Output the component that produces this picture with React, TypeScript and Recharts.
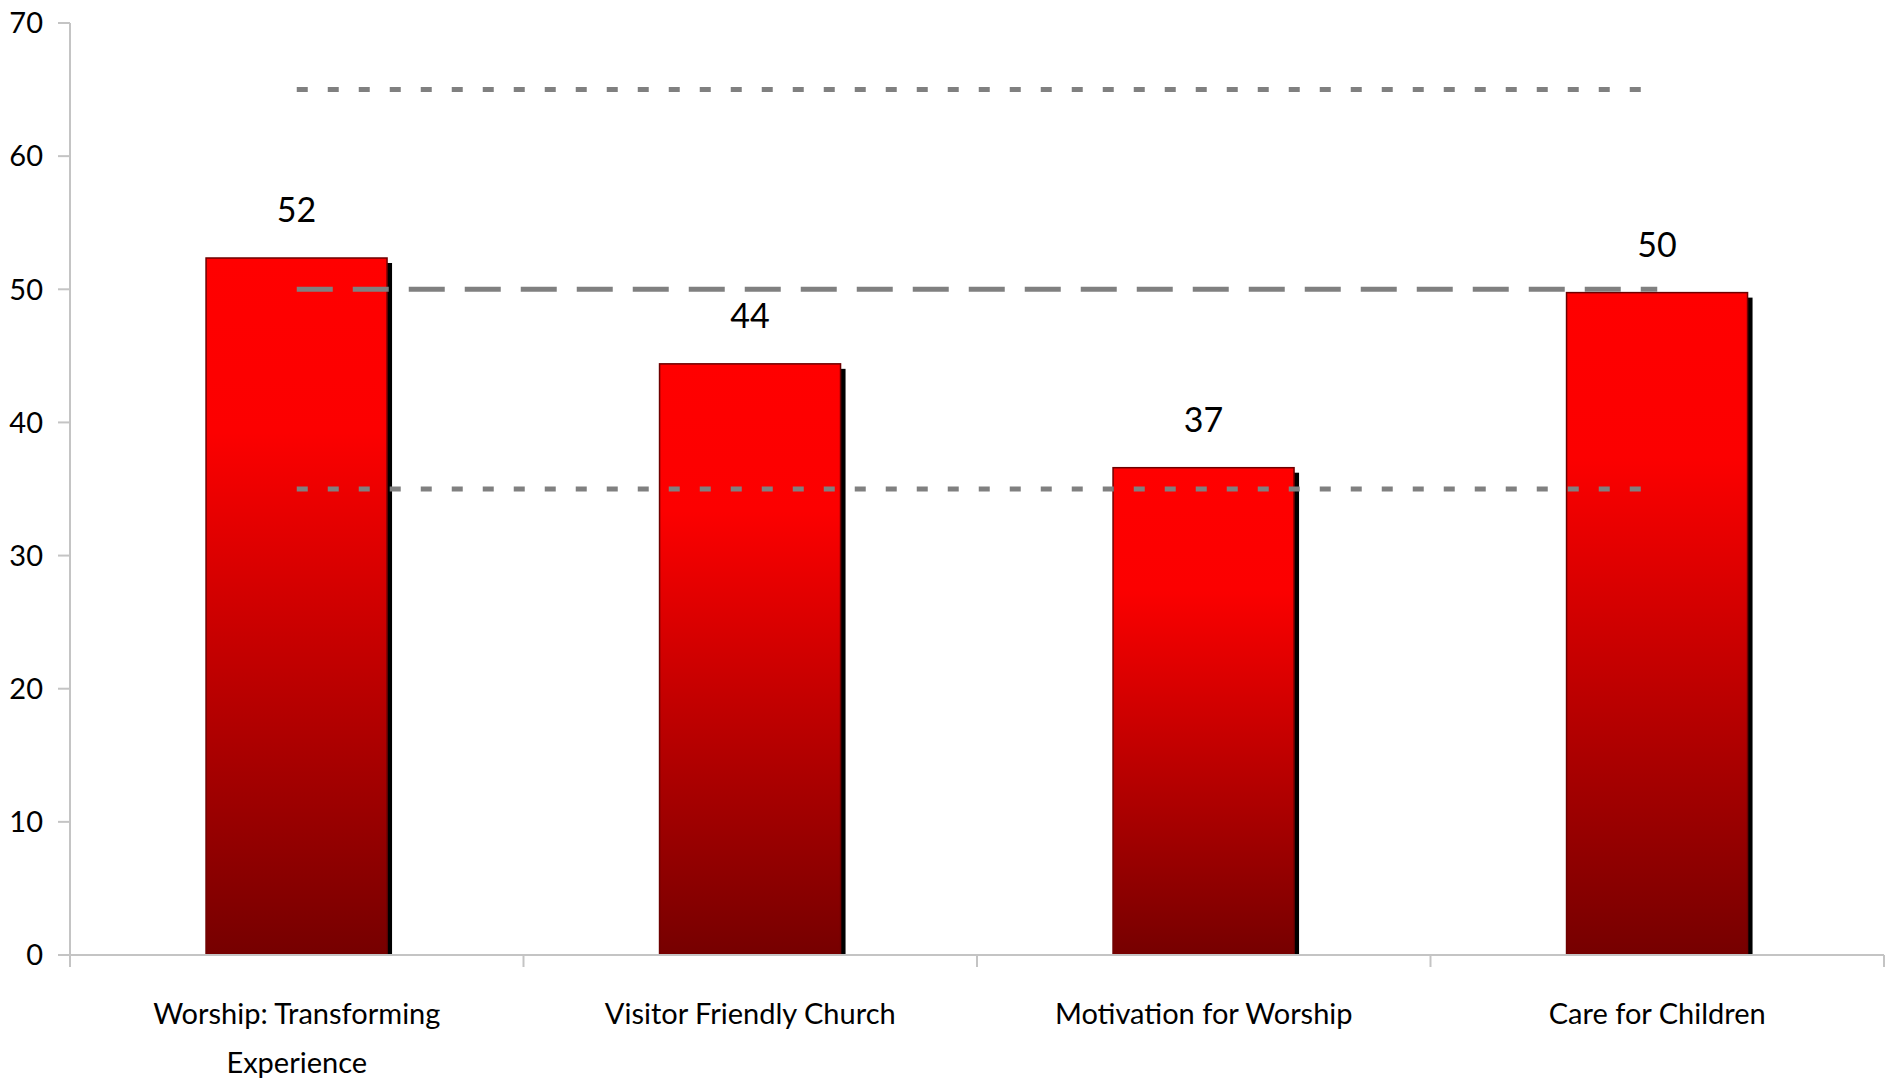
import { ComposedChart, Bar, Line, XAxis, YAxis, LabelList } from 'recharts';

const categories = [
  'Worship: Transforming Experience',
  'Visitor Friendly Church',
  'Motivation for Worship',
  'Care for Children',
];
const scores = [52.35, 44.4, 36.6, 49.75];
const upperBand = [65, 65, 65, 65];
const midLine = [50, 50, 50, 50];
const lowerBand = [35, 35, 35, 35];
const yTicks = [0, 10, 20, 30, 40, 50, 60, 70];

const data = categories.map((name, i) => ({
  name,
  score: scores[i],
  upper: upperBand[i],
  mid: midLine[i],
  lower: lowerBand[i],
}));

const W = 1891;
const H = 1078;
const LEFT = 70;
const RIGHT = 7;
const BAND = (W - LEFT - RIGHT) / categories.length;

const FONT = 'Lato, "Open Sans", sans-serif';
const AXIS = '#c4c4c4';
const REF = '#808080';

// simple word wrap by character count (only the long label wraps)
const wrap = (s: string, max = 24) => {
  const lines: string[] = [];
  let cur = '';
  s.split(' ').forEach((w) => {
    const next = cur ? cur + ' ' + w : w;
    if (next.length > max && cur) {
      lines.push(cur);
      cur = w;
    } else {
      cur = next;
    }
  });
  if (cur) lines.push(cur);
  return lines;
};

// bar with a hard black drop shadow
const ShadowBar = (props: any) => {
  const { x, y, width, height } = props;
  if (!height || height <= 0) return null;
  return (
    <g>
      <rect x={x + 5} y={y + 5} width={width} height={Math.max(height - 5, 0)} fill="#000" />
      <rect x={x} y={y} width={width} height={height} fill="url(#barGrad)" stroke="#6e0000" strokeWidth={1.5} />
    </g>
  );
};

// category label + tick marks on the category boundaries
const CategoryTick = (props: any) => {
  const { x, y, payload, index } = props;
  const half = BAND / 2;
  const lines = wrap(String(payload.value));
  return (
    <g>
      <line x1={x - half} x2={x - half} y1={y} y2={y + 12} stroke={AXIS} strokeWidth={2} />
      {index === categories.length - 1 && (
        <line x1={x + half} x2={x + half} y1={y} y2={y + 12} stroke={AXIS} strokeWidth={2} />
      )}
      <text x={x} y={y + 69} textAnchor="middle" fontFamily={FONT} fontSize={29} fill="#000">
        {lines.map((ln, i) => (
          <tspan key={i} x={x} dy={i === 0 ? 0 : 49}>
            {ln}
          </tspan>
        ))}
      </text>
    </g>
  );
};

export default function App() {
  return (
    <div style={{ position: 'absolute', left: 0, top: 0, width: W, height: H, background: '#fff' }}>
      <ComposedChart
        width={W}
        height={H}
        data={data}
        margin={{ top: 23, right: RIGHT, left: 0, bottom: 0 }}
        barCategoryGap="30%"
      >
        <defs>
          <linearGradient id="barGrad" x1="0" y1="0" x2="0" y2="1">
            <stop offset="0%" stopColor="#ff0000" />
            <stop offset="25%" stopColor="#fc0000" />
            <stop offset="100%" stopColor="#760000" />
          </linearGradient>
        </defs>
        <XAxis
          dataKey="name"
          height={123}
          stroke={AXIS}
          strokeWidth={2}
          tickLine={false}
          tickSize={0}
          tickMargin={0}
          tick={<CategoryTick />}
          interval={0}
        />
        <YAxis
          domain={[0, 70]}
          ticks={yTicks}
          width={LEFT}
          tickSize={12}
          tickMargin={15}
          stroke={AXIS}
          strokeWidth={2}
          tick={{ fontFamily: FONT, fontSize: 29, fill: '#000' }}
          tickLine={{ stroke: AXIS, strokeWidth: 2 }}
        />
        <Bar dataKey="score" shape={ShadowBar} isAnimationActive={false}>
          <LabelList
            dataKey="score"
            position="top"
            offset={36}
            formatter={(v: number) => Math.round(v)}
            style={{ fontFamily: FONT, fontSize: 34, fill: '#000' }}
          />
        </Bar>
        <Line dataKey="upper" stroke={REF} strokeWidth={5} strokeDasharray="11 20" dot={false} activeDot={false} isAnimationActive={false} />
        <Line dataKey="mid" stroke={REF} strokeWidth={5} strokeDasharray="36 20" dot={false} activeDot={false} isAnimationActive={false} />
        <Line dataKey="lower" stroke={REF} strokeWidth={5} strokeDasharray="11 20" dot={false} activeDot={false} isAnimationActive={false} />
      </ComposedChart>
    </div>
  );
}
